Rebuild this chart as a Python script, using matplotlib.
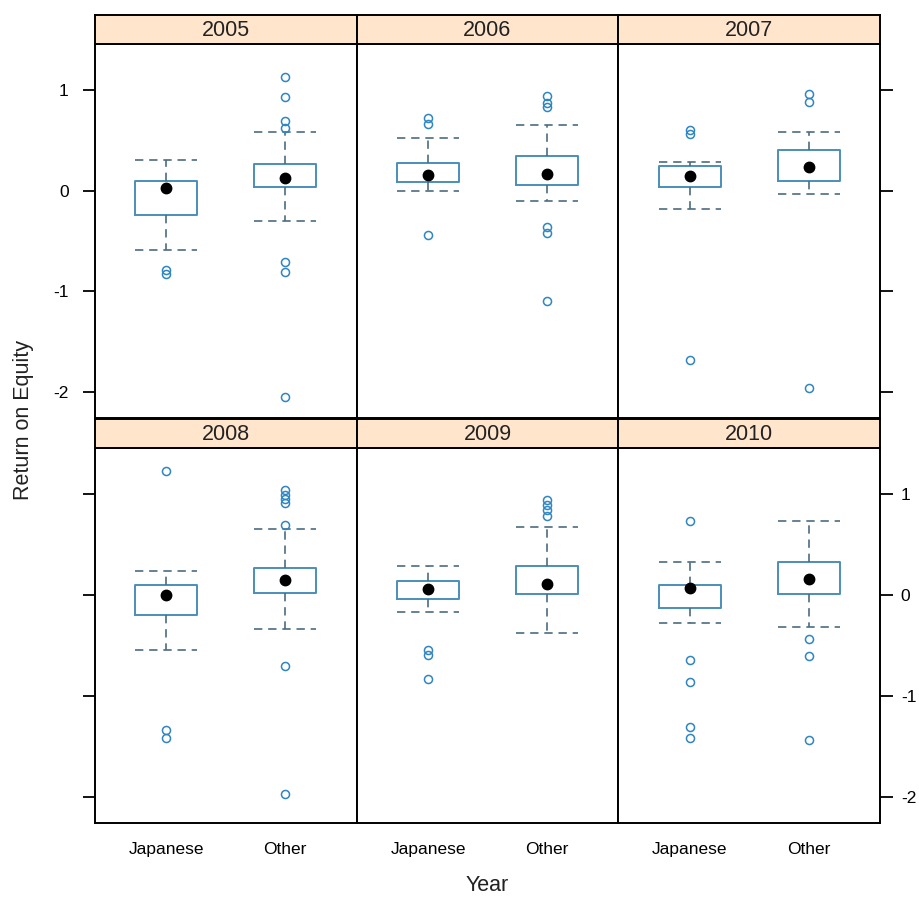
import matplotlib
matplotlib.use("Agg")
import matplotlib.pyplot as plt

plt.rcParams['font.family'] = ['Liberation Sans', 'DejaVu Sans']

years = ['2005', '2006', '2007', '2008', '2009', '2010']
groups = ['Japanese', 'Other']

# five-number summaries per year: (lower whisker, lower hinge, median, upper hinge, upper whisker)
japanese_stats = [
    (-0.59, -0.24, 0.03, 0.10, 0.30),
    (0.00, 0.09, 0.155, 0.27, 0.52),
    (-0.18, 0.04, 0.15, 0.24, 0.28),
    (-0.54, -0.20, 0.00, 0.10, 0.24),
    (-0.165, -0.04, 0.06, 0.135, 0.29),
    (-0.28, -0.125, 0.065, 0.10, 0.33),
]
other_stats = [
    (-0.30, 0.04, 0.13, 0.26, 0.58),
    (-0.10, 0.06, 0.17, 0.34, 0.65),
    (-0.03, 0.10, 0.23, 0.40, 0.58),
    (-0.34, 0.02, 0.145, 0.27, 0.65),
    (-0.38, 0.01, 0.105, 0.29, 0.67),
    (-0.32, 0.01, 0.16, 0.33, 0.73),
]
japanese_outliers = [
    [-0.79, -0.83],
    [0.72, 0.66, -0.44],
    [0.60, 0.56, -1.68],
    [1.23, -1.33, -1.41],
    [-0.54, -0.59, -0.83],
    [0.73, -0.64, -0.86, -1.31, -1.41],
]
other_outliers = [
    [1.13, 0.93, 0.69, 0.62, -0.71, -0.81, -2.05],
    [0.94, 0.87, 0.83, -0.36, -0.42, -1.09],
    [0.96, 0.88, -1.96],
    [1.04, 0.99, 0.95, 0.91, 0.69, -0.70, -1.97],
    [0.94, 0.89, 0.84, 0.78],
    [-0.43, -0.60, -1.43],
]
y_ticks = [-2, -1, 0, 1]

BOX_COL = '#4a8fbb'
WHISK_COL = '#4b6c80'
PT_COL = '#2f86c0'
STRIP_COL = '#ffe5cc'

W, H = 920, 897
fig = plt.figure(figsize=(W / 100, H / 100), dpi=100)

left_px, right_px = 95, 880
col_w = (right_px - left_px) / 3
rows = [(15, 44, 418), (419, 448, 823)]  # strip top, panel top, panel bottom


def stats_dict(s, fl, label):
    lo, q1, med, q3, hi = s
    return dict(whislo=lo, q1=q1, med=med, q3=q3, whishi=hi, fliers=fl, label=label)


for i, year in enumerate(years):
    r, c = divmod(i, 3)
    st, pt, pb = rows[r]
    x0 = left_px + c * col_w
    ax = fig.add_axes([x0 / W, 1 - pb / H, col_w / W, (pb - pt) / H])
    sax = fig.add_axes([x0 / W, 1 - pt / H, col_w / W, (pt - st) / H])

    bstats = [stats_dict(japanese_stats[i], japanese_outliers[i], groups[0]),
              stats_dict(other_stats[i], other_outliers[i], groups[1])]
    ax.bxp(bstats, positions=[1, 2], widths=0.52, capwidths=0.52,
           boxprops=dict(color=BOX_COL, linewidth=1.4),
           whiskerprops=dict(color=WHISK_COL, linewidth=1.2, linestyle=(0, (5, 3.5))),
           capprops=dict(color=WHISK_COL, linewidth=1.2, linestyle=(0, (5, 3.5))),
           flierprops=dict(marker='o', markerfacecolor='none', markeredgecolor=PT_COL,
                           markersize=5.8, markeredgewidth=1.1),
           medianprops=dict(linewidth=0, color='none'))
    meds = [japanese_stats[i][2], other_stats[i][2]]
    ax.plot([1, 2], meds, linestyle='none', marker='o', color='black', markersize=7.5, zorder=5)

    ax.set_xlim(0.4, 2.6)
    ax.set_ylim(-2.255, 1.455)
    for sp in ax.spines.values():
        sp.set_linewidth(1.4)
        sp.set_color('black')

    # x labels only on the bottom row
    if r == 1:
        ax.set_xticks([1, 2])
        ax.set_xticklabels(groups, fontsize=12.5)
        ax.tick_params(axis='x', length=0, pad=14)
    else:
        ax.set_xticks([])

    # alternating y axes: labels left on top row, right on bottom row
    ax.set_yticks(y_ticks)
    ax.set_yticklabels([str(t) for t in y_ticks], fontsize=12.5)
    ax.tick_params(axis='y', length=9, width=1.3, direction='out', pad=10)
    if c == 0 and r == 0:
        ax.tick_params(axis='y', left=True, labelleft=True, right=False, labelright=False)
    elif c == 0 and r == 1:
        ax.tick_params(axis='y', left=True, labelleft=False, right=False, labelright=False)
    elif c == 2 and r == 0:
        ax.tick_params(axis='y', left=False, labelleft=False, right=True, labelright=False)
    elif c == 2 and r == 1:
        ax.tick_params(axis='y', left=False, labelleft=False, right=True, labelright=True,
                       pad=6)
    else:
        ax.tick_params(axis='y', left=False, labelleft=False, right=False, labelright=False)

    sax.set_facecolor(STRIP_COL)
    sax.set_xticks([])
    sax.set_yticks([])
    for sp in sax.spines.values():
        sp.set_linewidth(1.4)
        sp.set_color('black')
    sax.text(0.5, 0.45, year, ha='center', va='center', fontsize=15.5,
             color='#222222', transform=sax.transAxes)

fig.text(487 / W, 1 - 885 / H, 'Year', ha='center', va='center', fontsize=15.5, color='#222222')
fig.text(24 / W, 1 - 420 / H, 'Return on Equity', ha='center', va='center', rotation=90,
         fontsize=15.5, color='#222222')

fig.savefig('out.png', dpi=100, facecolor='white')
